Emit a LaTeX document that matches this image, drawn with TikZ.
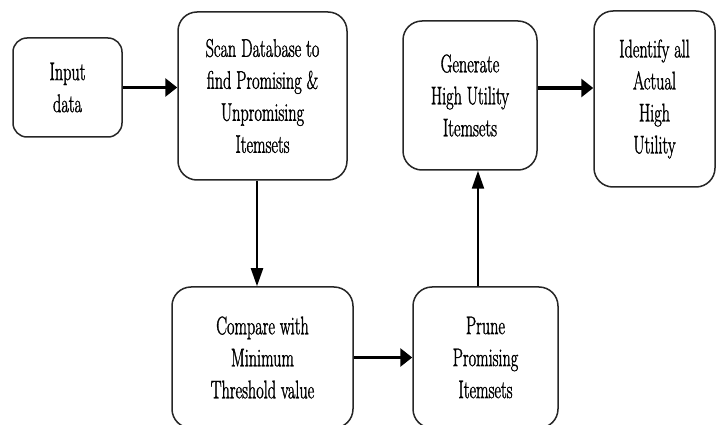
\documentclass[tikz,border=0pt]{standalone}
\usepackage{fontspec}
\setmainfont{Latin Modern Roman}[FakeStretch=0.635,FakeBold=1.2]
\usetikzlibrary{arrows.meta}
\begin{document}
\begin{tikzpicture}[x=1pt,y=-1pt,
  box/.style={draw=black!85, line width=1.5pt, rounded corners=19pt, fill=white,
    align=center, inner sep=0pt, font=\fontsize{25.5}{32}\selectfont},
  harrow/.style={line width=3.6pt, -{Triangle[length=12pt,width=18pt]}},
  varrow/.style={line width=2.2pt, -{Triangle[length=18pt,width=12pt]}}]
\useasboundingbox (0,0) rectangle (716,425);
\clip (0,0) rectangle (716,425);
\node[box, rounded corners=14pt, minimum width=109pt, minimum height=99pt] (input) at (67.5,87.5) {Input\\data};
\node[box, minimum width=169pt, minimum height=168pt] (scan) at (262.5,96) {Scan Database to\\find Promising \&\\Unpromising\\Itemsets};
\node[box, minimum width=134pt, minimum height=149pt] (gen) at (470,95.5) {Generate\\High Utility\\Itemsets};
\node[box, minimum width=121pt, minimum height=176pt] (id) at (654.5,99) {Identify all\\Actual\\High\\Utility};
\node[box, minimum width=181pt, minimum height=141pt] (cmp) at (262.5,357.5) {Compare with\\Minimum\\Threshold value};
\node[box, minimum width=145pt, minimum height=141pt] (prune) at (485.5,357.5) {Prune\\Promising\\Itemsets};
\draw[harrow] (input.east) -- (input.east -| scan.west);
\draw[harrow] ([yshift=7.5pt]gen.east) -- ([yshift=7.5pt]gen.east -| id.west);
\draw[varrow] ([xshift=-5.5pt]scan.south) -- ([xshift=-5.5pt]scan.south |- cmp.north);
\draw[harrow] (cmp.east) -- (cmp.east -| prune.west);
\draw[varrow] ([xshift=-7.5pt]prune.north) -- ([xshift=-7.5pt]prune.north |- gen.south);
\end{tikzpicture}
\end{document}
